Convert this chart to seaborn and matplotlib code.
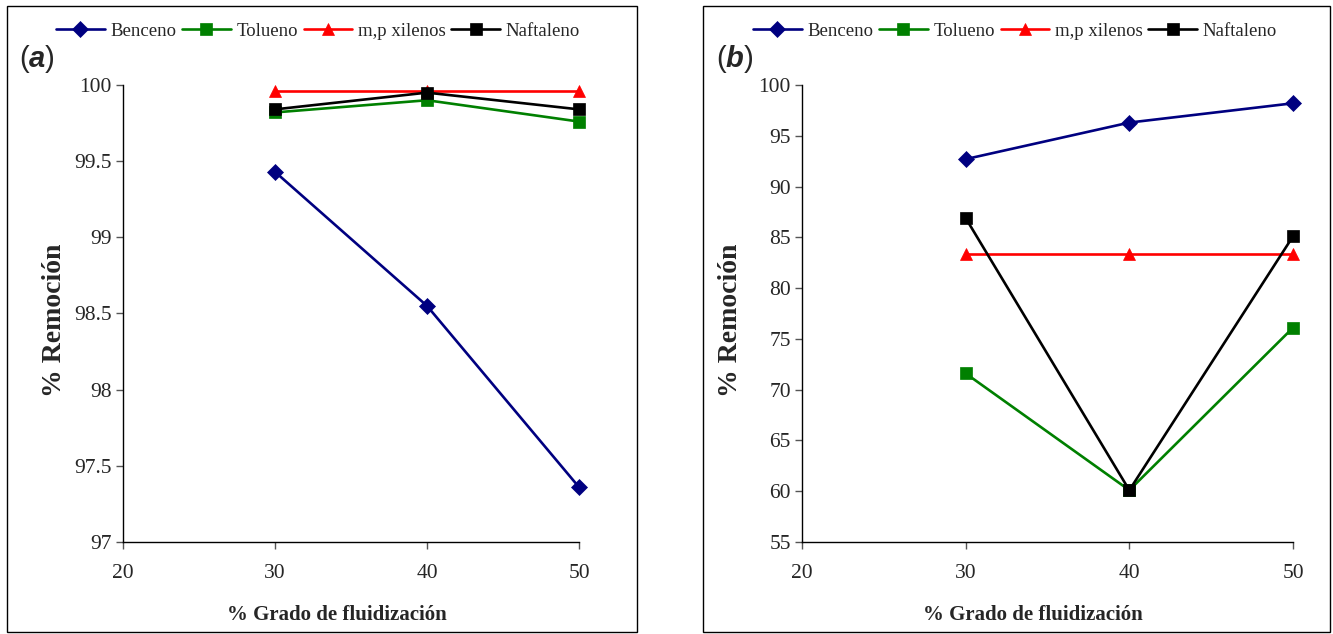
"""
Removal percentage vs fluidization degree, panels (a) and (b)
"""

import matplotlib

matplotlib.use("Agg")
import matplotlib.pyplot as plt
import pandas as pd
import seaborn as sns
from matplotlib.patches import Rectangle
from matplotlib.ticker import FixedLocator, FuncFormatter

# data
grado = [30, 40, 50]
compuestos = ["Benceno", "Tolueno", "m,p xilenos", "Naftaleno"]

a_benceno = [99.43, 98.55, 97.36]
a_tolueno = [99.82, 99.90, 99.76]
a_xilenos = [99.96, 99.96, 99.96]
a_naftaleno = [99.84, 99.95, 99.84]

b_benceno = [92.7, 96.3, 98.2]
b_tolueno = [71.6, 60.1, 76.1]
b_xilenos = [83.4, 83.4, 83.4]
b_naftaleno = [86.9, 60.1, 85.1]

x_ticks = [20, 30, 40, 50]
a_yticks = [97, 97.5, 98, 98.5, 99, 99.5, 100]
b_yticks = [55, 60, 65, 70, 75, 80, 85, 90, 95, 100]

colores = {"Benceno": "#000080", "Tolueno": "#008000",
           "m,p xilenos": "#FF0000", "Naftaleno": "#000000"}
marcadores = {"Benceno": "D", "Tolueno": "s", "m,p xilenos": "^", "Naftaleno": "s"}

W, H = 1333, 634


def long_frame(series):
    rows = []
    for name, vals in zip(compuestos, series):
        for g, v in zip(grado, vals):
            rows.append({"grado": g, "remocion": v, "compuesto": name})
    return pd.DataFrame(rows)


def px(x, y):
    """pixel position (from top-left) to figure fraction"""
    return x / W, 1 - y / H


def draw_panel(fig, rect, df, yticks, letter, box, legend_cx, tag_xy, ylabel_x):
    ax = fig.add_axes(rect)
    sns.lineplot(
        data=df, x="grado", y="remocion", hue="compuesto", style="compuesto",
        hue_order=compuestos, style_order=compuestos, palette=colores,
        markers=marcadores, dashes=False, linewidth=1.9, markersize=8.5,
        legend=False, ax=ax,
    )
    for line in ax.lines:
        line.set_markeredgecolor(line.get_color())
        line.set_clip_on(False)
        line.set_markeredgewidth(0.5)

    ax.set_xlim(x_ticks[0], x_ticks[-1])
    ax.set_ylim(yticks[0], yticks[-1])
    ax.xaxis.set_major_locator(FixedLocator(x_ticks))
    ax.yaxis.set_major_locator(FixedLocator(yticks))
    ax.yaxis.set_major_formatter(FuncFormatter(lambda v, p: f"{v:g}"))
    ax.tick_params(direction="out", length=5, width=1, labelsize=15.5,
                   color="#555555", pad=3)
    ax.tick_params(axis="x", pad=11)
    sns.despine(ax=ax)
    for s in ("left", "bottom"):
        ax.spines[s].set_color("black")
        ax.spines[s].set_linewidth(1)

    ax.set_xlabel("% Grado de fluidización", fontsize=15, fontweight="bold")
    ax.xaxis.set_label_coords(0.47, -0.137)
    ax.set_ylabel("% Remoción", fontsize=20, fontweight="bold")
    fx, _ = px(ylabel_x, 0)
    ax.yaxis.set_label_coords(fx, 0.495, transform=fig.transFigure)

    # legend above the plot
    fig.legend(ax.lines, compuestos, loc="center",
               bbox_to_anchor=px(legend_cx, 31), ncol=4, frameon=False,
               fontsize=13.5, handlelength=2.6, handletextpad=0.3,
               columnspacing=0.3, borderaxespad=0)

    # panel tag "(a)" / "(b)" with bold italic letter
    tx, ty = px(*tag_xy)
    t1 = ax.annotate("(", xy=(tx, ty), xycoords="figure fraction",
                     fontsize=21, family="Liberation Sans", va="baseline",
                     annotation_clip=False)
    t2 = ax.annotate(letter, xy=(1, ty), xycoords=(t1, "figure fraction"),
                     fontsize=21, family="Liberation Sans", weight="bold",
                     style="italic", va="baseline", annotation_clip=False)
    ax.annotate(")", xy=(1, ty), xycoords=(t2, "figure fraction"),
                fontsize=21, family="Liberation Sans", va="baseline",
                annotation_clip=False)

    # outer frame around the panel
    x0, y1 = px(box[0], box[1])
    x1, y0 = px(box[2], box[3])
    fig.patches.append(Rectangle((x0, y0), x1 - x0, y1 - y0,
                                 transform=fig.transFigure, fill=False,
                                 edgecolor="black", linewidth=1))
    return ax


sns.set_style("ticks")
plt.rcParams["font.family"] = ["Liberation Serif", "DejaVu Serif"]

fig = plt.figure(figsize=(W / 100, H / 100), dpi=100)

top, bottom = 85, 542
df_a = long_frame([a_benceno, a_tolueno, a_xilenos, a_naftaleno])
df_b = long_frame([b_benceno, b_tolueno, b_xilenos, b_naftaleno])

rect_a = [123 / W, 1 - bottom / H, (579 - 123) / W, (bottom - top) / H]
rect_b = [802 / W, 1 - bottom / H, (1293 - 802) / W, (bottom - top) / H]

draw_panel(fig, rect_a, df_a, a_yticks, "a", (7, 6, 637, 632), 318, (19, 67), 67)
draw_panel(fig, rect_b, df_b, b_yticks, "b", (703, 6, 1330, 632), 1015, (716, 67), 743)

fig.savefig("out.png", dpi=100)
